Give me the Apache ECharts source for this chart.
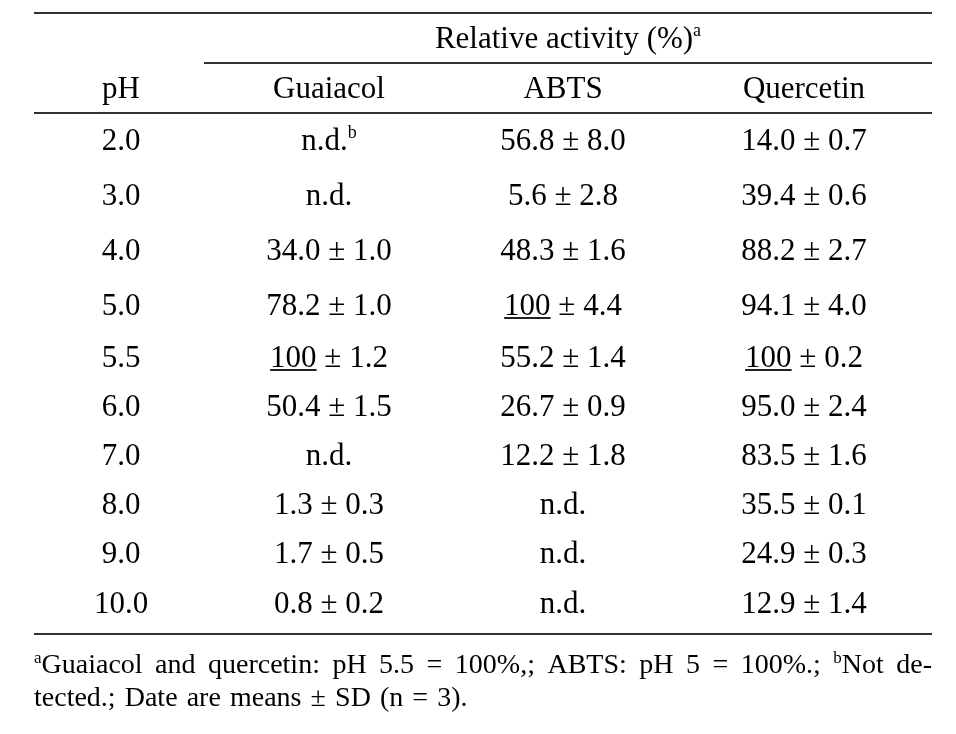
<!DOCTYPE html>
<html><head><meta charset="utf-8">
<script src="https://cdn.jsdelivr.net/npm/echarts@6/dist/echarts.min.js"></script>
<style>html,body{margin:0;padding:0;background:#fff}#c{width:956px;height:734px}</style>
</head><body><div id="c"></div>
<script>
// ---- data ----
const columns = ['pH', 'Guaiacol', 'ABTS', 'Quercetin'];
const phLabels = ['2.0', '3.0', '4.0', '5.0', '5.5', '6.0', '7.0', '8.0', '9.0', '10.0'];
// null = n.d. (not detected)
const guaiacolMean = [null, null, 34.0, 78.2, 100, 50.4, null, 1.3, 1.7, 0.8];
const guaiacolSD   = [null, null, 1.0, 1.0, 1.2, 1.5, null, 0.3, 0.5, 0.2];
const abtsMean     = [56.8, 5.6, 48.3, 100, 55.2, 26.7, 12.2, null, null, null];
const abtsSD       = [8.0, 2.8, 1.6, 4.4, 1.4, 0.9, 1.8, null, null, null];
const quercetinMean = [14.0, 39.4, 88.2, 94.1, 100, 95.0, 83.5, 35.5, 24.9, 12.9];
const quercetinSD   = [0.7, 0.6, 2.7, 4.0, 0.2, 2.4, 1.6, 0.1, 0.3, 1.4];
const groupTitle = 'Relative activity (%)';
const groupTitleNote = 'a';
const ndText = 'n.d.';
const ndNote = 'b';
const footLine1 = [['a', 'sup'], ['Guaiacol and quercetin: pH 5.5 = 100%,; ABTS: pH 5 = 100%.; ', 'txt'], ['b', 'sup'], ['Not de-', 'txt']];
const footLine2 = 'tected.; Date are means ± SD (n = 3).';

// ---- layout / style ----
const FONT = '"Liberation Serif", "Times New Roman", serif';
const FS = 31;
const INK = '#000';
const RULE = '#333';
const colCenters = [121, 329, 563, 804];
const colW = 220;
const blocks = [
  { from: 0, to: 4, top: 115, height: 218.8 },
  { from: 4, to: 10, top: 333.8, height: 295.2 }
];

const underline = new echarts.graphic.LinearGradient(0, 0, 0, 1, [
  { offset: 0, color: 'rgba(0,0,0,0)' },
  { offset: 0.84, color: 'rgba(0,0,0,0)' },
  { offset: 0.84, color: '#222' },
  { offset: 0.895, color: '#222' },
  { offset: 0.895, color: 'rgba(0,0,0,0)' },
  { offset: 1, color: 'rgba(0,0,0,0)' }
]);
const base = { fontFamily: FONT, color: INK, textBorderWidth: 0, textShadowBlur: 0, opacity: 1 };
const rich = {
  t: Object.assign({}, base, { fontSize: FS, lineHeight: 36 }),
  u: Object.assign({}, base, { fontSize: FS, lineHeight: 36, backgroundColor: underline }),
  s: Object.assign({}, base, { fontSize: 18, lineHeight: 18, verticalAlign: 'top' })
};

const means = [null, guaiacolMean, abtsMean, quercetinMean];
const sds = [null, guaiacolSD, abtsSD, quercetinSD];
let ndNoted = false;
function cellText(c, r) {
  if (c === 0) return '{t|' + phLabels[r] + '}';
  const m = means[c][r], s = sds[c][r];
  if (m == null) {
    let out = '{t|' + ndText + '}';
    if (!ndNoted) { ndNoted = true; out += '{s|' + ndNote + '}'; }
    return out;
  }
  const sdStr = s.toFixed(1);
  if (m === 100) return '{u|100}{t| ± ' + sdStr + '}';
  return '{t|' + m.toFixed(1) + ' ± ' + sdStr + '}';
}
// texts built in reading order so the first n.d. carries the footnote mark
const texts = columns.map(() => []);
for (let r = 0; r < phLabels.length; r++) for (let c = 0; c < columns.length; c++) texts[c][r] = cellText(c, r);

const grid = [], xAxis = [], yAxis = [], series = [];
columns.forEach((col, c) => {
  blocks.forEach((b, bi) => {
    const gi = grid.length;
    grid.push({ left: colCenters[c] - colW / 2, width: colW, top: b.top, height: b.height, outerBoundsMode: 'none' });
    xAxis.push({
      gridIndex: gi, type: 'category', data: [col], position: 'top',
      axisLine: { show: false }, axisTick: { show: false }, splitLine: { show: false },
      axisLabel: { show: bi === 0, fontFamily: FONT, fontSize: FS, color: INK, margin: 25, verticalAlign: 'middle' }
    });
    const rows = phLabels.slice(b.from, b.to);
    yAxis.push({ gridIndex: gi, type: 'category', data: rows, inverse: true, show: false });
    series.push({
      type: 'scatter', xAxisIndex: gi, yAxisIndex: gi, symbolSize: 0, silent: true,
      itemStyle: { color: INK, opacity: 1 },
      data: rows.map((ph, i) => ({
        value: [col, ph],
        label: { formatter: texts[c][b.from + i] }
      })),
      label: { show: true, position: 'inside', color: INK, textBorderWidth: 0, textBorderColor: 'transparent', opacity: 1, rich: rich }
    });
  });
});

// footnote justification
const mctx = document.createElement('canvas').getContext('2d');
const FFS = 28, FSUP = 17;
function tw(t, size) { mctx.font = size + 'px "Liberation Serif"'; return mctx.measureText(t).width; }
const lineLeft = 34, lineRight = 932;
let words = [];
footLine1.forEach(([t, k]) => {
  if (k === 'sup') words.push({ sup: t });
  else t.split(' ').forEach((w, i) => { if (i > 0) words.push({ gap: true }); if (w) words.push({ w }); });
});
let total = 0, gaps = 0;
words.forEach(x => { if (x.sup) total += tw(x.sup, FSUP); else if (x.w) total += tw(x.w, FFS); else gaps++; });
const gapW = Math.max(4, (lineRight - lineLeft - total) / Math.max(1, gaps));
const foot1 = words.map(x => x.sup ? '{s|' + x.sup + '}' : x.w ? '{f|' + x.w + '}' : '{g| }').join('');
const spaceW = tw(' ', FFS);
const foot2 = footLine2.split(' ').map(w => '{f|' + w + '}').join('{g2| }');
const footRich = {
  f: Object.assign({}, base, { fontSize: FFS, lineHeight: 32 }),
  g: Object.assign({}, base, { fontSize: FFS, lineHeight: 32, width: gapW }),
  g2: Object.assign({}, base, { fontSize: FFS, lineHeight: 32, width: spaceW * 1.3 }),
  s: Object.assign({}, base, { fontSize: FSUP, lineHeight: 17, verticalAlign: 'top' })
};

const option = {
  backgroundColor: '#fff',
  animation: false,
  grid, xAxis, yAxis, series,
  graphic: [
    { type: 'line', shape: { x1: lineLeft, y1: 13, x2: lineRight, y2: 13 }, style: { stroke: RULE, lineWidth: 2 } },
    { type: 'line', shape: { x1: 204, y1: 63, x2: lineRight, y2: 63 }, style: { stroke: RULE, lineWidth: 2 } },
    { type: 'line', shape: { x1: lineLeft, y1: 113, x2: lineRight, y2: 113 }, style: { stroke: RULE, lineWidth: 2 } },
    { type: 'line', shape: { x1: lineLeft, y1: 634, x2: lineRight, y2: 634 }, style: { stroke: RULE, lineWidth: 2 } },
    { type: 'text', x: 568, y: 40, style: { text: '{t|' + groupTitle + '}{s|' + groupTitleNote + '}', rich: rich, align: 'center', verticalAlign: 'middle' } },
    { type: 'text', x: lineLeft, y: 666, style: { text: foot1, rich: footRich, align: 'left', verticalAlign: 'middle' } },
    { type: 'text', x: lineLeft, y: 699, style: { text: foot2, rich: footRich, align: 'left', verticalAlign: 'middle' } }
  ]
};
const chart = echarts.init(document.getElementById('c'), null, { renderer: 'canvas' });
chart.setOption(option);
</script>
</body></html>
